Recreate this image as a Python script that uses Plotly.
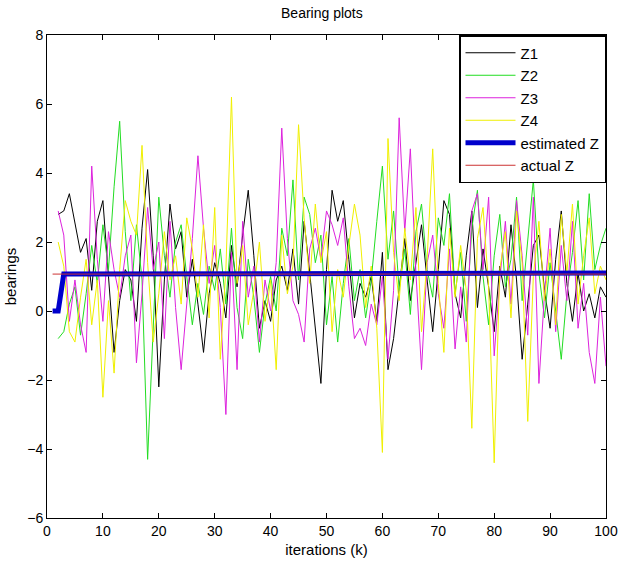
import plotly.graph_objects as go

k = list(range(2, 101))
k_est = list(range(1, 101))

z1 = [2.8, 2.9, 3.4, 2.6, 1.7, 2.1, 0.6, 2.6, 3.2, 1.0, -1.2, 0.3, 1.2, 0.9, -0.3, 2.4, 4.1, 1.6, -2.2,
      0.9, 3.1, 1.8, 2.3, 0.4, 1.5, 0.2, -1.2, 0.5, 1.4, 0.8, -0.2, 1.9, 0.7, 2.2, 3.5, 1.6, -0.5, 0.3,
      -0.3, 0.9, 1.3, 0.6, 1.8, 0.2, 2.6, 1.1, -0.4, -2.1, 1.2, 3.5, 2.6, 3.2, 1.5, -0.2, 0.8, 0.4, 1.0,
      -0.3, 1.7, -1.7, -0.8, 0.6, 2.1, 0.3, 1.4, 2.5, 0.9, -0.6, 1.2, 3.2, 2.8, 0.5, -0.2, 1.6, 2.9, 0.1,
      1.8, 0.7, -0.6, 1.3, 0.4, 2.5, 0.9, -1.4, 0.2, 1.9, 2.2, 0.6, -0.5, 1.5, 2.9, 0.8, -0.3, 1.1, 0.0,
      0.5, -0.2, 0.7, 0.4]
z2 = [-0.8, -0.6, 0.2, 0.7, -0.7, 0.5, 1.9, 0.8, 2.5, 1.2, 3.6, 5.5, 2.3, 0.3, 2.5, 0.9, -4.3, -0.6, 3.3,
      1.6, 0.4, 2.0, 2.5, 1.0, -0.4, 0.8, -0.1, 1.3, 0.6, 1.8, 0.2, 2.4, 0.1, -0.8, 1.5, 0.4, -1.2, 0.2,
      1.0, 0.0, 2.4, 1.6, 3.8, 0.9, 3.3, 2.8, 1.4, 2.2, -0.4, 1.0, -0.9, 0.8, 2.1, 0.3, 1.2, -0.2, 0.9,
      2.6, 4.2, 1.5, 2.9, 0.6, 1.8, -0.1, 2.3, 3.1, 1.2, 0.4, 2.7, 1.9, 3.4, 0.5, 1.7, -0.3, 2.4, 3.5,
      1.0, -0.4, 1.6, 2.8, 0.7, 1.5, 3.3, 0.3, 2.0, 3.8, 1.1, -0.2, 1.4, 0.0, -1.4, 0.5, 1.7, 3.2, 0.9,
      3.4, 1.2, 1.9, 2.4]
z3 = [2.9, 2.2, -0.3, 0.9, -0.4, -1.2, 4.2, 1.5, -0.3, 2.3, 1.2, 0.4, 1.6, 2.2, -1.5, 0.5, 3.0, 1.2, 2.0,
      -0.8, 2.6, 0.1, -1.7, 0.3, 2.1, 4.5, 2.4, 0.8, 1.9, 0.1, -3.0, 1.7, -1.7, 2.6, 0.4, 1.3, -0.9, 0.9,
      0.0, 1.4, 5.3, 2.1, 0.3, -0.1, -0.9, 1.8, 2.4, 1.5, 2.9, 2.5, 1.9, 2.7, 0.7, -0.8, -0.5, -1.0, 0.2,
      -0.4, 1.0, -1.4, 0.6, 5.6, 2.3, 4.7, 1.1, -1.7, 1.4, 2.2, 0.5, -0.5, 1.8, -1.1, 0.7, -0.9, 2.9, 3.4,
      1.2, 3.3, -1.3, 0.9, 2.6, 0.2, 3.2, 1.6, -0.7, 3.3, -2.1, 0.5, 2.4, -0.6, 1.9, 0.3, 2.6, -0.5, 0.8,
      -1.2, -2.1, 0.4, -1.6]
z4 = [2.0, 1.3, -0.6, -0.9, 0.4, 1.5, -0.4, 0.9, -2.5, 0.3, -1.8, 1.2, 3.2, 2.6, 2.2, 4.8, 1.4, -0.9, 0.5,
      2.3, 0.9, 1.6, 0.2, 2.7, 1.8, 0.4, 2.5, -0.2, 3.0, -1.4, 1.2, 6.2, 0.8, 1.9, -0.4, 0.6, 2.0, -0.3,
      0.9, -1.7, 2.2, 0.5, 1.3, 5.4, 2.7, 0.8, 3.1, 1.4, 2.3, -0.6, 1.2, 0.4, 1.9, 3.1, 2.2, 0.1, 1.3,
      -0.5, -4.1, 5.0, 1.7, 0.3, 2.4, 0.9, 3.0, -0.6, 1.5, 4.7, 0.8, -1.2, 2.4, 0.4, 1.9, 0.6, -3.4, 2.1,
      3.0, 0.7, -4.4, 1.2, 2.3, -0.2, 2.9, 1.4, -3.2, 1.0, 2.6, 0.3, 1.8, -0.4, 2.8, 1.1, 3.1, 0.2, 1.6,
      2.7, 0.5, 1.3, 0.9]
est_z = [0.0, 0.0] + [1.07] * 49 + [1.1] * 49
actual_z = [1.07] * 100

xticks = list(range(0, 101, 10))
yticks = list(range(-6, 9, 2))

font = "Liberation Sans Narrow, Arial Narrow, Liberation Sans, Arial, sans-serif"

fig = go.Figure()
for name, y, col in [("Z1", z1, "#000000"), ("Z2", z2, "#22dd22"),
                     ("Z3", z3, "#dd22dd"), ("Z4", z4, "#f0f000")]:
    fig.add_trace(go.Scatter(x=k, y=y, mode="lines", name=name,
                             line=dict(color=col, width=1)))
fig.add_trace(go.Scatter(x=k_est, y=est_z, mode="lines", name="estimated Z",
                         line=dict(color="#0000cc", width=5)))
fig.add_trace(go.Scatter(x=k_est, y=actual_z, mode="lines", name="actual Z",
                         line=dict(color="#cc3333", width=1)))

axis_common = dict(showgrid=False, zeroline=False, showline=True, linecolor="black",
                   linewidth=1, mirror="ticks", ticks="inside", ticklen=5, automargin=False,
                   tickcolor="black", tickfont=dict(size=14, color="black", family=font))
fig.update_layout(
    width=619, height=567,
    margin=dict(l=47, r=13, t=35, b=49),
    paper_bgcolor="white", plot_bgcolor="white",
    title=dict(text="Bearing plots", x=0.52, xanchor="center", y=0.985, yanchor="top",
               font=dict(size=14, color="black", family=font)),
    xaxis=dict(range=[0, 100], tickvals=xticks,
               title=dict(text="iterations (k)", standoff=6,
                          font=dict(size=15, color="black", family=font)), **axis_common),
    yaxis=dict(range=[-6, 8], tickvals=yticks,
               title=dict(text="bearings", standoff=6,
                          font=dict(size=15, color="black", family=font)), **axis_common),
    showlegend=True,
    legend=dict(x=1.0, y=1.0, xanchor="right", yanchor="top",
                bgcolor="white", bordercolor="black", borderwidth=1.5,
                font=dict(size=15, color="black", family=font),
                itemwidth=50, tracegroupgap=0),
)

fig.write_html("out.html")
